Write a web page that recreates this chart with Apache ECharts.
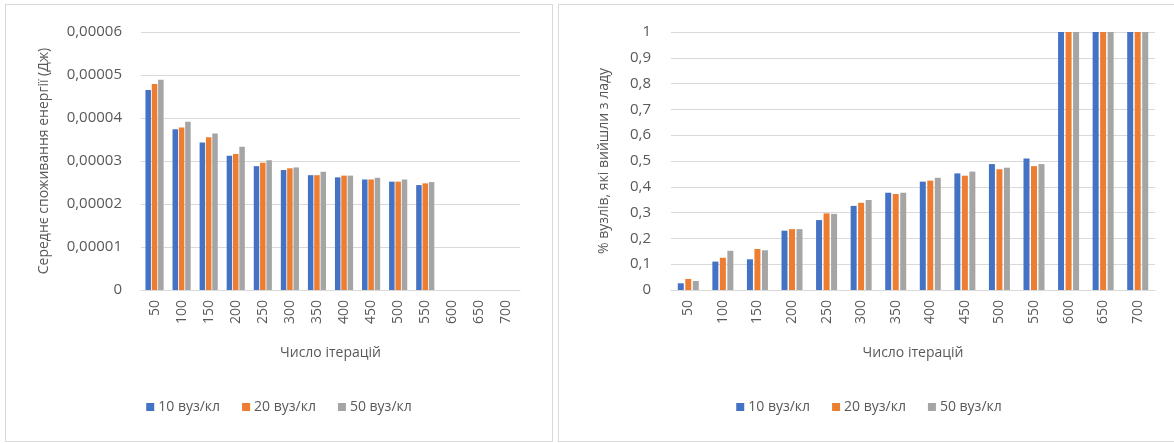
<!DOCTYPE html>
<html>
<head>
<meta charset="utf-8">
<script src="https://cdn.jsdelivr.net/npm/echarts@6/dist/echarts.min.js"></script>
<style>
  html, body { margin: 0; padding: 0; background: #fff; }
  body { width: 1174px; height: 443px; position: relative; overflow: hidden; }
  .panel { position: absolute; border: 1px solid #d9d9d9; box-sizing: border-box; background: #fff; }
  #left { left: 5px; top: 4px; width: 548px; height: 438px; }
  #right { left: 558px; top: 4px; width: 622px; height: 438px; }
</style>
</head>
<body>
<div id="left" class="panel"></div>
<div id="right" class="panel"></div>
<script>
const categories = ['50','100','150','200','250','300','350','400','450','500','550','600','650','700'];
const seriesNames = ['10 вуз/кл','20 вуз/кл','50 вуз/кл'];
const colors = ['#4472C4','#ED7D31','#A5A5A5'];

// Left chart: average energy consumption (J)
const energy10 = [0.0000465,0.0000374,0.0000343,0.0000312,0.0000288,0.0000279,0.0000267,0.0000262,0.0000257,0.0000252,0.0000244,null,null,null];
const energy20 = [0.0000479,0.0000378,0.0000355,0.0000316,0.0000296,0.0000283,0.0000267,0.0000266,0.0000257,0.0000252,0.0000248,null,null,null];
const energy50 = [0.0000489,0.0000391,0.0000364,0.0000333,0.0000302,0.0000285,0.0000275,0.0000266,0.0000261,0.0000257,0.0000251,null,null,null];
const energyTicks = [0, 0.00001, 0.00002, 0.00003, 0.00004, 0.00005, 0.00006];

// Right chart: share of failed nodes
const fail10 = [0.026,0.110,0.119,0.230,0.271,0.326,0.377,0.420,0.452,0.488,0.510,1,1,1];
const fail20 = [0.043,0.125,0.159,0.236,0.297,0.338,0.372,0.424,0.443,0.468,0.480,1,1,1];
const fail50 = [0.035,0.152,0.154,0.236,0.295,0.349,0.377,0.435,0.459,0.474,0.488,1,1,1];

const xName = 'Число ітерацій';
const leftYName = 'Середнє споживання енергії (Дж)';
const rightYName = '% вузлів, які вийшли з ладу';

const FONT = '"Open Sans", "Liberation Sans", sans-serif';
const TXT = '#595959';

function makeOption(cfg) {
  return {
    animation: false,
    textStyle: { fontFamily: FONT, color: TXT },
    color: colors,
    grid: cfg.grid,
    legend: {
      bottom: cfg.legendBottom,
      left: 'center',
      itemWidth: 8, itemHeight: 8, itemGap: 22,
      icon: 'rect',
      textStyle: { fontFamily: FONT, fontSize: 14, color: TXT, padding: [0,0,0,-1] },
      data: seriesNames
    },
    xAxis: {
      type: 'category',
      data: categories,
      name: xName,
      nameLocation: 'middle',
      nameGap: cfg.xNameGap,
      nameTextStyle: { fontFamily: FONT, fontSize: 14, color: TXT },
      axisLine: { lineStyle: { color: '#d9d9d9' } },
      axisTick: { show: false },
      axisLabel: { rotate: 90, fontFamily: FONT, fontSize: 14, color: TXT, margin: 10, interval: 0 }
    },
    yAxis: {
      type: 'value',
      min: cfg.min, max: cfg.max, interval: cfg.interval,
      name: cfg.yName,
      nameLocation: 'middle',
      nameGap: cfg.yNameGap,
      nameTextStyle: { fontFamily: FONT, fontSize: 14, color: TXT },
      axisLine: { show: false },
      axisTick: { show: false },
      splitLine: { lineStyle: { color: '#d9d9d9', width: 1 } },
      axisLabel: { fontFamily: FONT, fontSize: cfg.yLabelSize, color: TXT, margin: cfg.yLabelMargin, formatter: cfg.fmt }
    },
    series: cfg.data.map((d, i) => ({
      type: 'bar',
      name: seriesNames[i],
      data: d,
      barWidth: cfg.barWidth,
      barGap: cfg.barGap,
      itemStyle: { color: colors[i] }
    }))
  };
}

const leftChart = echarts.init(document.getElementById('left'), null, { renderer: 'canvas' });
leftChart.setOption(makeOption({
  grid: { left: 135, right: 32, top: 27, bottom: 151 },
  legendBottom: 22,
  xNameGap: 56,
  min: energyTicks[0], max: energyTicks[energyTicks.length - 1], interval: 0.00001,
  yName: leftYName, yNameGap: 90, yLabelSize: 15, yLabelMargin: 19,
  fmt: v => v === 0 ? '0' : v.toFixed(5).replace('.', ','),
  data: [energy10, energy20, energy50],
  barWidth: 5.5, barGap: '15%'
}));

const rightChart = echarts.init(document.getElementById('right'), null, { renderer: 'canvas' });
rightChart.setOption(makeOption({
  grid: { left: 112, right: 24, top: 27, bottom: 151 },
  legendBottom: 22,
  xNameGap: 56,
  min: 0, max: 1, interval: 0.1,
  yName: rightYName, yNameGap: 60, yLabelSize: 15, yLabelMargin: 20,
  fmt: v => v === 0 ? '0' : (Math.round(v * 10) / 10).toString().replace('.', ','),
  data: [fail10, fail20, fail50],
  barWidth: 6, barGap: '25%'
}));
</script>
</body>
</html>
